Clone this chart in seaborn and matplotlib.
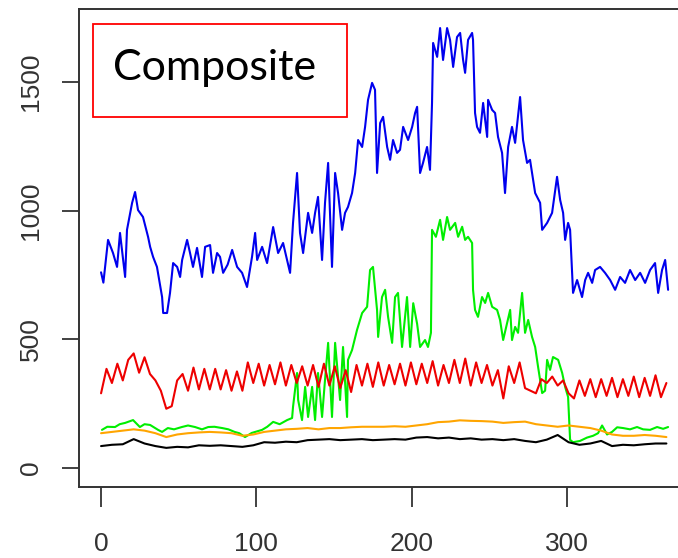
import numpy as np
import pandas as pd
import matplotlib
matplotlib.use("Agg")
import matplotlib.pyplot as plt
import matplotlib.patches as mpatches
import seaborn as sns

# ---------------- data ----------------
blue_day = [0, 1.5, 4.5, 7.7, 10.3, 12.2, 15.5, 16.7, 20, 21.9, 23.8, 27, 30.3, 31.6, 33.5, 36, 39.3, 40,
            42.5, 44.4, 46.4, 49, 50.9, 52.2, 55.4, 57.3, 59.2, 61.8, 65, 67, 70.2, 72.1, 74.7, 76.6, 78.6,
            81.5, 84.4, 87.6, 90.8, 94, 97.2, 99.2, 100.5, 103.7, 106.9, 110.8, 114, 117.2, 121.7, 123.6,
            126.2, 128.1, 130.1, 133.3, 135.9, 137.8, 139.7, 142.3, 144.2, 146.2, 148.7, 150.7, 152.6,
            155.2, 157.1, 159, 161.6, 163.6, 165.5, 168.1, 170, 171.9, 174.5, 176.4, 177.7, 179.7, 181.6,
            184.2, 186.1, 188, 190.6, 192.5, 194.5, 197.7, 200.3, 202.2, 203.5, 205.4, 207.3, 209.9, 211.8,
            213.1, 213.8, 216.4, 218.3, 220.2, 222.8, 224.7, 226.7, 229.2, 231.2, 233.1, 234.4, 236.3,
            238.9, 239.5, 240.8, 242.1, 244, 246, 248.6, 249.2, 251.8, 253.7, 255.6, 258.2, 260.1, 262.1,
            264.6, 266.6, 269.8, 271.7, 274.3, 276.2, 279.5, 282.7, 284, 287.2, 290.4, 293.6, 295.6, 297.5,
            298.8, 300.7, 302, 303.9, 306.5, 309.7, 311.7, 313.6, 316.2, 318.1, 321.3, 324.5, 327.8, 331,
            334.2, 337.4, 340.6, 343.9, 347.1, 350.3, 353.5, 356.7, 358.7, 361.2, 363.2, 365.1]
blue_val = [760, 720, 886, 835, 781, 913, 742, 925, 1030, 1072, 1002, 975, 897, 859, 820, 781, 664, 602,
            602, 680, 796, 781, 742, 808, 886, 835, 781, 855, 742, 859, 866, 758, 835, 820, 758,
            790, 847, 781, 758, 703, 820, 913, 808, 859, 796, 936, 835, 874, 758, 952,
            1146, 913, 835, 991, 913, 991, 1053, 808, 1030, 1185, 781, 1146, 1068,
            925, 991, 1014, 1068, 1146, 1274, 1247, 1325, 1430, 1496, 1469, 1146, 1340, 1364,
            1247, 1197, 1274, 1224, 1236, 1325, 1274, 1325, 1379, 1403, 1146, 1185, 1247, 1158,
            1418, 1651, 1597, 1709, 1585, 1709, 1663, 1558, 1674, 1690, 1585, 1535, 1663,
            1690, 1663, 1379, 1325, 1302, 1418, 1286, 1430, 1391, 1379, 1286, 1224, 1068, 1247,
            1325, 1263, 1441, 1274, 1185, 1197, 1068, 1030, 925, 952, 991, 1131, 1041, 991,
            886, 952, 925, 680, 730, 664, 730, 758, 719, 769, 781, 758, 730, 692,
            742, 719, 769, 730, 758, 719, 769, 796, 680, 769, 808, 692]

green_day = [0.6, 4, 9, 12, 15.5, 20.6, 25, 28, 31.6, 36.7, 39.3, 43, 47, 52, 56, 60.5, 65, 69, 73, 78, 82,
             86, 89, 92.7, 97, 103.7, 107, 110.8, 115, 119.8, 123, 123.6, 126.2, 126.9, 129.4, 131.4,
             133.3, 135.9, 137.8, 139.7, 142.3, 144.2, 146.2, 148.7, 150.7, 153.9, 155.8, 158.4, 159,
             161.6, 164.8, 168.1, 171.3, 173.2, 175.1, 177.7, 178.4, 180.9, 182.9, 184.8, 187.4, 189.3,
             191.2, 193.8, 197, 199, 201, 203.5, 205.4, 208.6, 210.5, 212.4, 213.1, 215.6, 218.3, 220.2,
             222.8, 224.7, 228, 229.9, 232.5, 234.4, 236.3, 238.9, 239.5, 240.8, 242.7, 245.3, 247.3,
             249.2, 251.8, 255, 256.9, 258.9, 261.4, 263.4, 264.6, 266.6, 268.5, 271.1, 273, 275, 277.5,
             279.5, 281.4, 284, 285.9, 287.2, 289.1, 291, 294.3, 296.9, 298.8, 300.7, 302, 303.9, 308.4,
             312.9, 316.8, 320, 322.6, 325.8, 329, 332.3, 336.1, 340.6, 345.1, 349, 353.5, 358, 361.9, 365.1]
green_val = [148, 160, 159, 170, 175, 186, 159, 170, 167, 148, 140, 155, 150, 159, 165, 159, 150, 159, 160, 155, 150,
             140, 135, 120, 136, 148, 160, 179, 170, 186, 194, 237, 369, 264, 186, 315,
             198, 315, 186, 369, 198, 342, 486, 198, 486, 264, 470, 198, 420,
             458, 536, 602, 626, 769, 781, 614, 509, 664, 692, 587, 486, 664,
             680, 470, 664, 470, 640, 560, 470, 497, 470, 525, 925, 898, 964, 886,
             975, 925, 952, 898, 937, 886, 898, 874, 692, 614, 587, 664, 641,
             680, 626, 614, 575, 497, 563, 614, 497, 548, 525, 680, 525, 575, 509,
             470, 392, 291, 300, 420, 381, 431, 420, 369, 315, 276, 109, 100, 105,
             118, 125, 135, 165, 130, 140, 158, 155, 150, 159, 150, 148, 159, 152, 159]

red_day = list(np.arange(0, 365, 3.5))
red_val = [290, 385, 330, 405, 340, 420, 445, 370, 430, 365, 340, 300, 230, 240, 340, 365, 300, 390, 305, 385,
           305, 385, 305, 380, 300, 375, 300, 410, 330, 405, 320, 400, 325, 410, 320, 400, 330, 395, 320, 400,
           315, 405, 320, 395, 310, 380, 295, 400, 320, 405, 315, 410, 320, 400, 325, 405, 320, 410, 325, 405,
           330, 415, 320, 400, 330, 420, 330, 425, 320, 410, 330, 400, 320, 380, 270, 395, 330, 410, 310, 300,
           290, 345, 330, 355, 320, 340, 290, 270, 340, 280, 345, 275, 345, 280, 350, 275, 345, 280, 355, 275,
           350, 280, 360, 275, 330]

week_day = list(np.arange(0, 365, 7))
orange_val = [135, 140, 145, 150, 145, 135, 120, 130, 135, 138, 140, 138, 135, 125, 130, 140, 145, 150, 152,
              155, 150, 155, 155, 158, 160, 160, 160, 162, 160, 165, 170, 178, 180, 185, 183, 182, 180, 175,
              178, 180, 170, 165, 160, 165, 160, 155, 145, 130, 125, 125, 128, 125, 120]
black_val = [85, 90, 92, 112, 95, 85, 78, 82, 80, 88, 86, 88, 85, 82, 88, 100, 98, 102, 100, 108, 110, 112,
             108, 110, 112, 108, 110, 112, 110, 118, 120, 115, 118, 112, 115, 110, 112, 108, 112, 105, 100,
             110, 128, 100, 90, 95, 105, 85, 90, 88, 92, 95, 95]

x_ticks = [0, 100, 200, 300]
y_ticks = [0, 500, 1000, 1500]
title_text = "Composite"

# ---------------- build table ----------------
frames = [
    pd.DataFrame({"day": blue_day, "value": blue_val, "series": "blue"}),
    pd.DataFrame({"day": green_day, "value": green_val, "series": "green"}),
    pd.DataFrame({"day": red_day, "value": red_val, "series": "red"}),
    pd.DataFrame({"day": week_day, "value": orange_val, "series": "orange"}),
    pd.DataFrame({"day": week_day, "value": black_val, "series": "black"}),
]
df = pd.concat(frames, ignore_index=True)
palette = {"blue": "#0000ee", "green": "#00ee00", "red": "#ee0000", "orange": "#ffa500", "black": "#000000"}

sns.set_theme(style="white")
plt.rcParams["font.family"] = ["Liberation Sans", "DejaVu Sans"]

fig = plt.figure(figsize=(6.78, 5.58), dpi=100)
fig.patch.set_facecolor("white")
ax = fig.add_axes([79 / 678, 71 / 558, 611 / 678, 478 / 558])

sns.lineplot(data=df, x="day", y="value", hue="series", palette=palette, hue_order=list(palette.keys()),
             estimator=None, legend=False, linewidth=1.5, ax=ax)

ax.set_xlim(-14.2, 379.2)
ax.set_ylim(-74, 1783)
ax.set_xlabel("")
ax.set_ylabel("")
ax.set_xticks(x_ticks)
ax.set_yticks(y_ticks)
ax.set_xticklabels([str(t) for t in x_ticks])
ax.set_yticklabels([str(t) for t in y_ticks], rotation=90, va="center")
ax.tick_params(axis="x", length=14.4, width=1.3, pad=18, labelsize=19, colors="#333333",
               direction="out", bottom=True)
ax.tick_params(axis="y", length=12, width=1.3, pad=14, labelsize=19, colors="#333333",
               direction="out", left=True)
for s in ["left", "bottom", "top", "right"]:
    ax.spines[s].set_visible(True)
    ax.spines[s].set_color("#333333")
    ax.spines[s].set_linewidth(1.4)

# label box
rect = mpatches.Rectangle((93 / 678, 1 - 117 / 558), 254 / 678, 93 / 558, transform=fig.transFigure,
                          fill=True, facecolor="white", edgecolor="#ff0000", linewidth=1.3, zorder=5)
fig.patches.append(rect)
fig.text(113 / 678, 1 - 80 / 558, title_text, fontsize=31, family=["Lato", "DejaVu Sans"],
         color="black", va="baseline", ha="left", zorder=6)

fig.savefig("out.png", dpi=100, facecolor="white")
